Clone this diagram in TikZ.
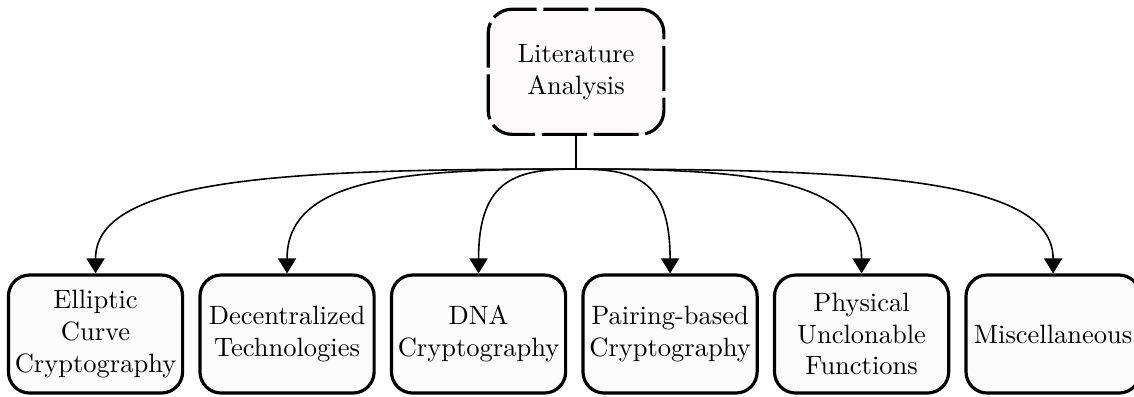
\documentclass[tikz,border=0pt]{standalone}
\usetikzlibrary{arrows.meta,positioning}
\definecolor{paper}{RGB}{252,252,252}
\definecolor{blush}{RGB}{254,250,251}
\tikzset{
  >={Triangle[length=2mm,width=2.4mm]},
  root/.style={draw,very thick,dash pattern=on 17pt off 2.5pt,fill=blush,rounded corners=9pt,
    minimum width=2.33cm,minimum height=1.66cm,align=center,inner sep=1pt},
  topic/.style={draw,very thick,fill=paper,rounded corners=8pt,
    minimum width=2.31cm,minimum height=1.565cm,align=center,inner sep=1pt},
  branch/.style={->,semithick},
}
\begin{document}
\begin{tikzpicture}
  \useasboundingbox (0,0) rectangle (15.04,5.252);
  \node[root] (lit) at (7.64,4.30) {Literature\\Analysis};
  \coordinate (hub) at (7.64,3.01);
  \draw[semithick] (lit) -- (hub);
  \foreach \t [count=\i from 0] in {{Elliptic\\Curve\\Cryptography},{Decentralized\\Technologies},
      {DNA\\Cryptography},{Pairing-based\\Cryptography},{Physical\\Unclonable\\Functions},{Miscellaneous}}
    \node[topic] (t\i) at (1.267+\i*2.54,0.822) {\t};
  % fan out from the hub
  \foreach \i/\o/\d in {0/180/3.82,1/180/2.29,2/180/0.77,3/0/0.76,4/0/2.28,5/0/3.8}
    \draw[branch] (hub) to[out=\o,in=90,out distance=\d cm,in distance=1.27cm] (t\i.north);
\end{tikzpicture}
\end{document}
